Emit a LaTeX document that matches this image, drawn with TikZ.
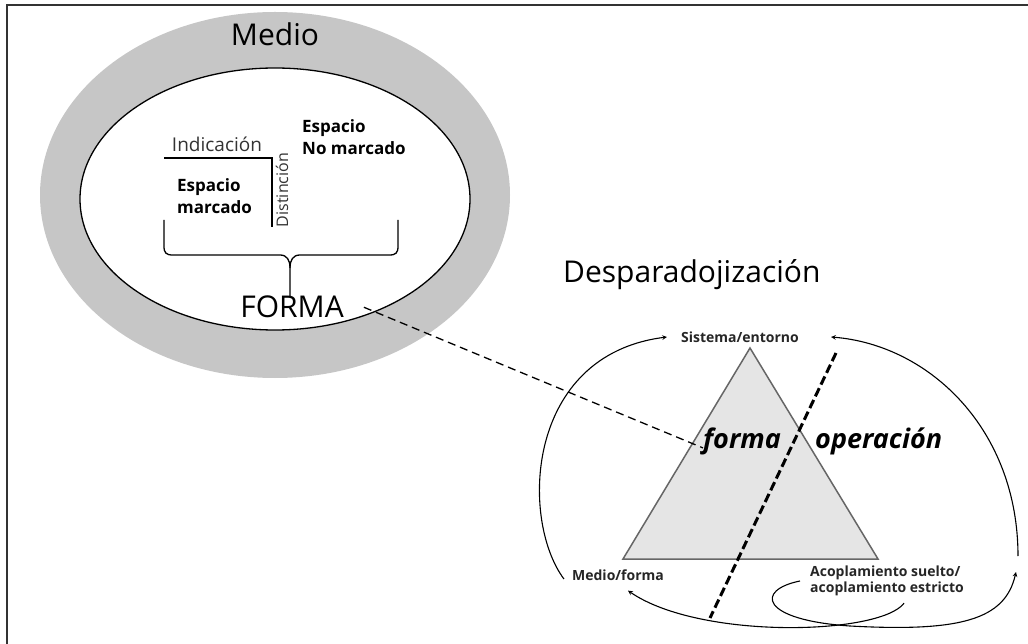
\documentclass[tikz,border=0pt]{standalone}
\usepackage{fontspec}
\setmainfont{Open Sans}
\usetikzlibrary{arrows,positioning}

\begin{document}
\begin{tikzpicture}[
    x=1pt,y=-1pt,
    title/.style={font=\fontsize{30}{36}\selectfont,inner sep=0pt},
    inlabel/.style={font=\bfseries\fontsize{17}{22}\selectfont,align=left,inner sep=0pt},
    thinlabel/.style={font=\fontsize{19}{22}\selectfont,text=black!80,inner sep=0pt},
    smalllabel/.style={font=\bfseries\fontsize{14}{16}\selectfont,align=left,inner sep=0pt,text=black!85},
    emphlabel/.style={font=\bfseries\itshape\fontsize{27}{30}\selectfont,inner sep=0pt},
    arrow/.style={->,>=stealth,line width=1.1pt},
    linkdash/.style={dash pattern=on 8pt off 5pt,line width=1.3pt},
    cutdash/.style={dash pattern=on 9pt off 4pt,line width=3pt}
]
\useasboundingbox (0,0) rectangle (1028,644);
\draw[line width=2pt,black!80] (7,644) -- (7,5) -- (1028,5);

% medio y forma
\fill[gray!45] (275,195) ellipse [x radius=235pt,y radius=183pt];
\draw[fill=white,line width=1.3pt] (275,199) ellipse [x radius=195pt,y radius=131pt];
\node[title,anchor=base] (MED) at (275,46) {Medio};

\node[thinlabel,anchor=base] (IND) at (217,152) {Indicación};
\draw[line width=1.3pt] (164,158) -- (272,158) -- (272,227);
\node[font=\fontsize{16}{18}\selectfont,text=black!80,rotate=90,inner sep=0pt] (DIS) at (282,190) {Distinción};
\node[inlabel,anchor=west] (ENM) at (302,137) {Espacio\\No marcado};
\node[inlabel,anchor=west] (EM) at (177,196) {Espacio\\marcado};

\draw[line width=1.3pt] (164,220) -- (164,246) .. controls (164,253) and (166,255) .. (173,255) -- (280,255)
    .. controls (287,255) and (290,260) .. (290,268) -- (290,297);
\draw[line width=1.3pt] (398,220) -- (398,246) .. controls (398,253) and (396,255) .. (389,255) -- (300,255)
    .. controls (293,255) and (290,260) .. (290,268);
\node[title,anchor=base] (FOR) at (292,318) {FORMA};

% desparadojizacion
\node[title,anchor=base west] (DES) at (563,283) {Desparadojización};
\draw[fill=gray!20,draw=black!60,line width=1.5pt] (750,348) -- (878,559) -- (623,559) -- cycle;
\draw[cutdash] (836,353) -- (710,618);
\node[emphlabel,anchor=base] (fo) at (742,448) {forma};
\node[emphlabel,anchor=base west] (op) at (815,448) {operación};
\draw[linkdash] ([xshift=20pt]FOR.east) -- ([yshift=-7pt]fo.west);

\node[smalllabel] (SE) at (740,337) {Sistema/entorno};
\node[smalllabel] (MF) at (618,575) {Medio/forma};
\node[smalllabel,anchor=west] (AC) at (810,581) {Acoplamiento suelto/\\acoplamiento estricto};
\coordinate (R1) at (1018,556);
\coordinate (R2) at (1016,572);

\draw[arrow] ([xshift=-8pt,yshift=-4pt]MF.west) .. controls (520,520) and (525,355) .. ([xshift=-14pt]SE.west);
\draw[arrow] (R1) .. controls (1018,430) and (930,345) .. ([xshift=32pt]SE.east);
\draw[arrow] ([xshift=17pt,yshift=-7pt]AC.south) .. controls (880,635) and (700,640) .. ([xshift=10pt,yshift=-10pt]MF.south);
\draw[arrow] ([xshift=-10pt]AC.west) .. controls (755,590) and (760,620) .. (850,626)
    .. controls (960,632) and (1005,620) .. (R2);

\end{tikzpicture}
\end{document}
